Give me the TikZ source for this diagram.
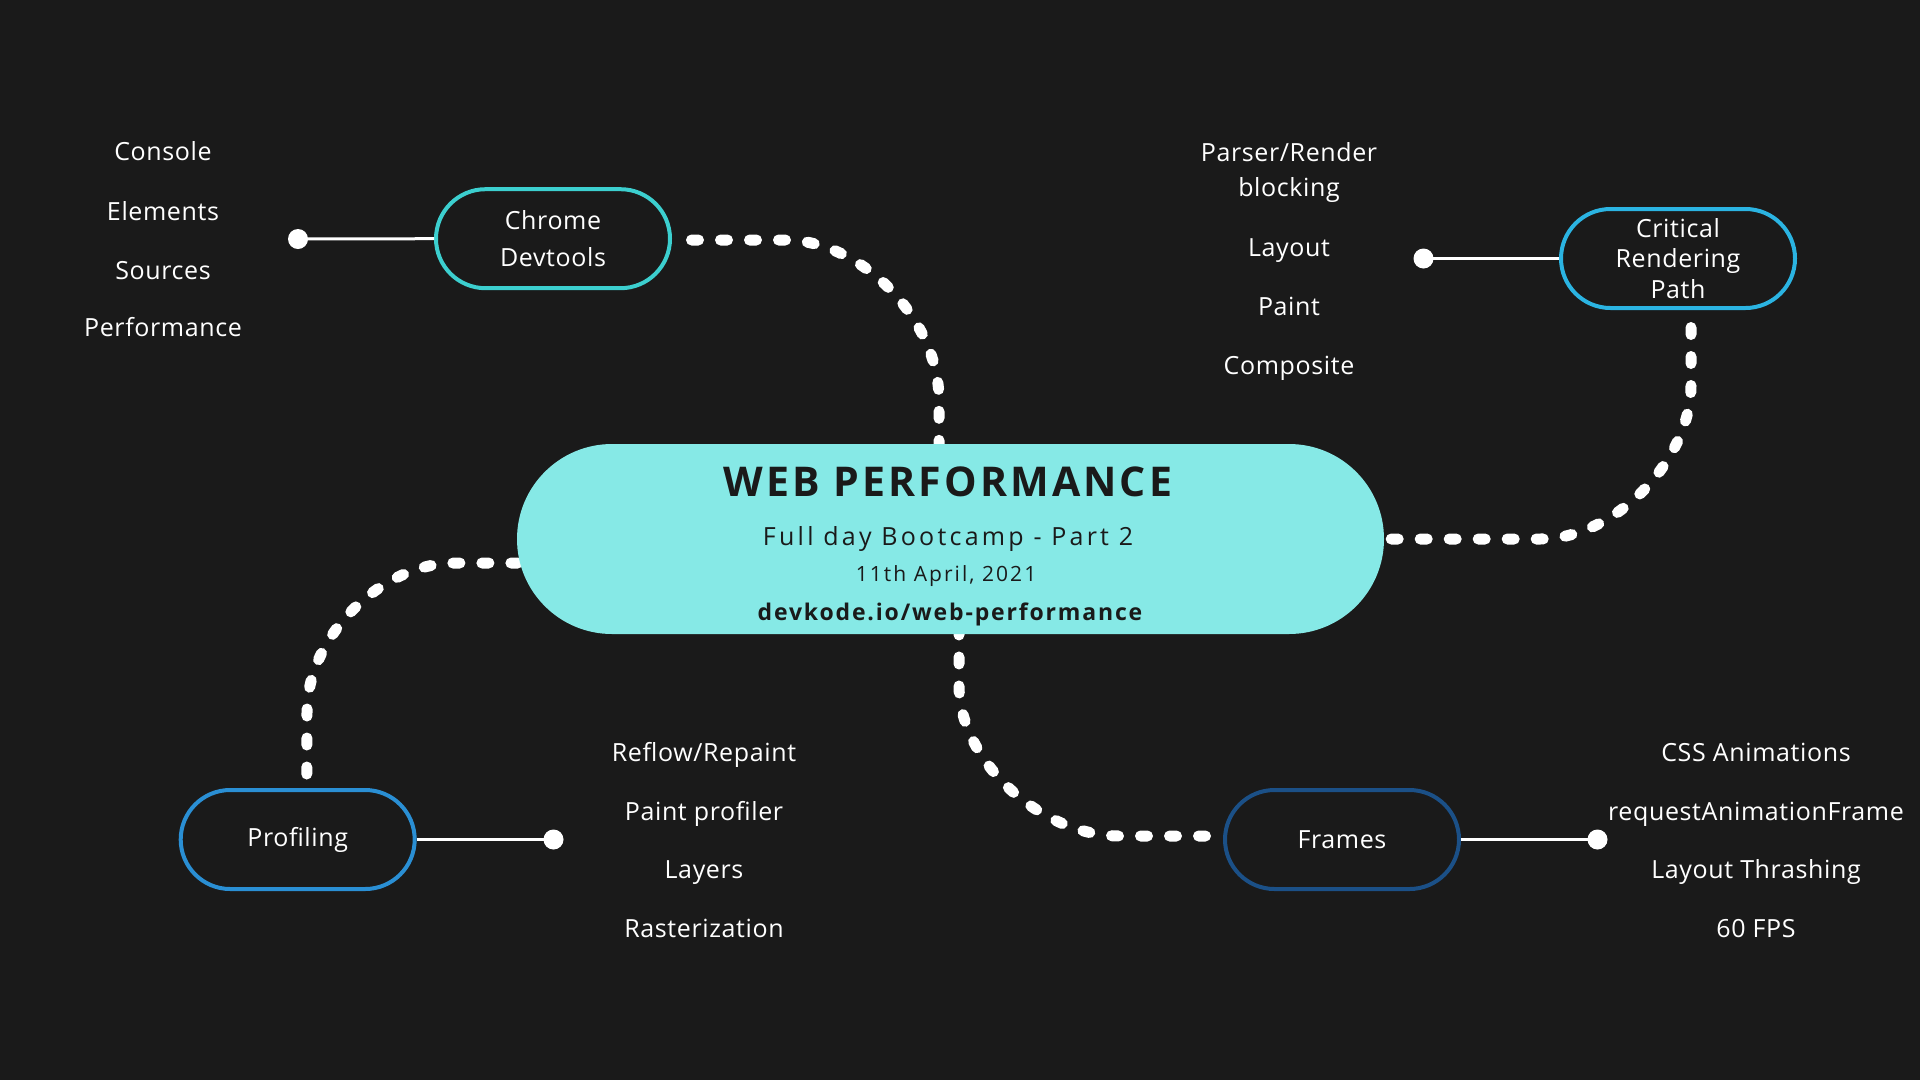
\documentclass[tikz,border=0pt]{standalone}
\usepackage{fontspec}
\setmainfont{Open Sans}
\newfontfamily\lblfont[LetterSpace=2.5]{Open Sans}
\newfontfamily\titlefont[LetterSpace=7.5]{Open Sans}
\newfontfamily\subfont[LetterSpace=13]{Open Sans}
\newfontfamily\datefont[LetterSpace=9.8]{Open Sans}
\newfontfamily\urlfont[LetterSpace=8]{Open Sans}
\usetikzlibrary{shapes.misc,calc}
\definecolor{bgc}{HTML}{1A1A1A}
\definecolor{hubfill}{HTML}{86E9E6}
\definecolor{cchrome}{HTML}{3CCFCF}
\definecolor{ccrp}{HTML}{2BB4E2}
\definecolor{cprof}{HTML}{2A8FD4}
\definecolor{cframes}{HTML}{1B5087}
\pgfdeclarelayer{bg}
\pgfsetlayers{bg,main}
\tikzset{
  pill/.style={rounded rectangle, draw=#1, line width=4pt, minimum width=234pt, minimum height=99pt, inner sep=0pt, text=white, align=center},
  lbl/.style={text=white, anchor=base, inner sep=0pt, font=\lblfont\fontsize{25}{30}\selectfont},
  hubtxt/.style={text=bgc, anchor=base, inner sep=0pt},
  dotnode/.style={circle, fill=white, minimum size=20pt, inner sep=0pt},
  solidline/.style={draw=white, line width=3pt},
  dotline/.style={draw=white, line width=11pt, line cap=round, dash pattern=on 7pt off 22pt},
}
\begin{document}
\begin{tikzpicture}[x=1pt,y=-1pt]
\begin{pgfonlayer}{bg}
\fill[bgc] (0,0) rectangle (1920,1080);
\end{pgfonlayer}
\useasboundingbox (0,0) rectangle (1920,1080);

% hub
\node[rounded rectangle, fill=hubfill, minimum width=867pt, minimum height=190pt, inner sep=0pt] (hub) at (950.5,539) {};
\node[hubtxt, font=\titlefont\fontsize{41}{45}\selectfont\bfseries] (title) at (948,496.7) {WEB PERFORMANCE};
\node[hubtxt, font=\subfont\fontsize{25}{30}\selectfont] (sub) at (948,545) {Full day Bootcamp - Part 2};
\node[hubtxt, font=\datefont\fontsize{21}{25}\selectfont] (date) at (946,581.7) {11th April, 2021};
\node[hubtxt, font=\urlfont\fontsize{23}{27}\selectfont\bfseries] (url) at (950,620) {devkode.io/web-performance};

% branch nodes
\node[pill=cchrome, font=\lblfont\fontsize{25}{36.7}\selectfont] (chrome) at (553,238.7) {Chrome\\Devtools};
\node[pill=ccrp, font=\lblfont\fontsize{25}{30.5}\selectfont] (crp) at (1678,258.5) {Critical\\Rendering\\Path};
\node[pill=cprof, font=\lblfont\fontsize{25}{30}\selectfont] (prof) at (297.7,839.5) {Profiling};
\node[pill=cframes, font=\lblfont\fontsize{25}{30}\selectfont] (frames) at (1342,839.5) {Frames};

% dots
\node[dotnode] (d1) at (298,239) {};
\node[dotnode] (d2) at (1423.5,258.5) {};
\node[dotnode] (d3) at (553.5,839.5) {};
\node[dotnode] (d4) at (1597.5,839.5) {};

\draw[solidline] (chrome.west) -- (d1.center);
\draw[solidline] (crp.west) -- (d2.center);
\draw[solidline] (prof.east) -- (d3.center);
\draw[solidline] (frames.east) -- (d4.center);

% lists
\node[lbl] (c1) at (163,160.5) {Console};
\node[lbl] (c2) at (163,220) {Elements};
\node[lbl] (c3) at (163,279) {Sources};
\node[lbl] (c4) at (163,336.7) {Performance};

\node[lbl] (r1) at (1289,161.7) {Parser/Render};
\node[lbl] (r2) at (1289,196.5) {blocking};
\node[lbl] (r3) at (1289,256.7) {Layout};
\node[lbl] (r4) at (1289,315) {Paint};
\node[lbl] (r5) at (1289,374) {Composite};

\node[lbl] (p1) at (704,761) {Reflow/Repaint};
\node[lbl] (p2) at (704,820) {Paint profiler};
\node[lbl] (p3) at (704,878.5) {Layers};
\node[lbl] (p4) at (704,937) {Rasterization};

\node[lbl] (f1) at (1756,761) {CSS Animations};
\node[lbl] (f2) at (1756,820) {requestAnimationFrame};
\node[lbl] (f3) at (1756,878.5) {Layout Thrashing};
\node[lbl] (f4) at (1756,937) {60 FPS};

% dotted connectors (from each branch into the hub, which covers their ends)
\begin{pgfonlayer}{bg}
\draw[dotline, shorten <=19.5pt] (chrome.east |- 0,240) -- (785,240) .. controls (862,240) and (939,320) .. (939,400) -- ($(hub.north)+(-11.5,20)$);
\draw[dotline, shorten <=17.5pt] ($(crp.south)+(13,0)$) -- (1691,385) .. controls (1691,459) and (1616,539) .. (1540,539) -- ($(hub.east)+(-20,0)$);
\draw[dotline, shorten <=14pt] ($(prof.north)+(9,0)$) -- (307,712) .. controls (307,637) and (381,563) .. (455,563) -- (540,563);
\draw[dotline, shorten <=17.5pt] (frames.west |- 0,836) -- (1120,836) .. controls (1040,836) and (959,760) .. (959,685) -- ($(hub.south)+(8.5,-20)$);
\end{pgfonlayer}
\end{tikzpicture}
\end{document}
